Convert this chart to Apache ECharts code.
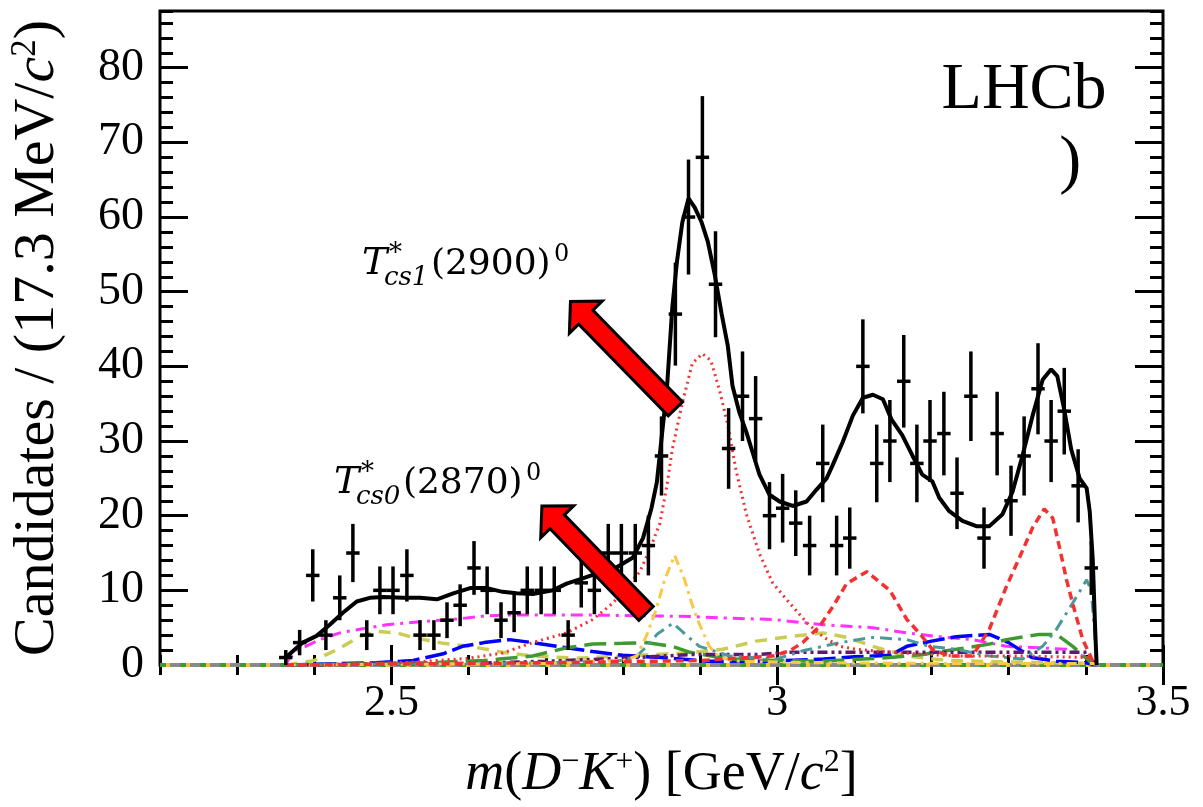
<!DOCTYPE html>
<html>
<head>
<meta charset="utf-8">
<script src="https://cdn.jsdelivr.net/npm/echarts@6/dist/echarts.min.js"></script>
<style>
html, body { margin: 0; padding: 0; background: #fff; }
#chart { width: 1203px; height: 807px; }
</style>
</head>
<body>
<div id="chart"></div>
<script>
// D-K+ invariant mass, 17.3 MeV bins
const binCenters = [2.363, 2.381, 2.398, 2.415, 2.433, 2.450, 2.468, 2.485, 2.502, 2.520,
    2.537, 2.555, 2.572, 2.589, 2.607, 2.624, 2.642, 2.659, 2.676, 2.694,
    2.711, 2.729, 2.746, 2.763, 2.781, 2.798, 2.816, 2.833, 2.850, 2.868,
    2.885, 2.903, 2.920, 2.937, 2.955, 2.972, 2.990, 3.007, 3.024, 3.042,
    3.059, 3.077, 3.094, 3.111, 3.129, 3.146, 3.164, 3.181, 3.198, 3.216,
    3.233, 3.251, 3.268, 3.285, 3.303, 3.320, 3.338, 3.355, 3.372, 3.390, 3.407]
const counts = [1, 3, 12, 4, 9, 15, 4, 10, 10, 12,
    4, 4, 6, 8, 13, 10, 6, 7, 10, 10,
    10, 4, 11, 10, 15, 15, 15, 16, 28, 47,
    60, 68, 51, 29, 36, 33, 20, 21, 19, 16,
    27, 16, 17, 40, 27, 30, 38, 27, 30, 31,
    23, 36, 17, 31, 22, 28, 37, 30, 34, 24, 13]
const countErrs = [1.0, 1.7, 3.5, 2.0, 3.0, 3.9, 2.0, 3.2, 3.2, 3.5,
    2.0, 2.0, 2.4, 2.8, 3.6, 3.2, 2.4, 2.6, 3.2, 3.2,
    3.2, 2.0, 3.3, 3.2, 3.9, 3.9, 3.9, 4.0, 5.3, 6.9,
    7.7, 8.2, 7.1, 5.4, 6.0, 5.7, 4.5, 4.6, 4.4, 4.0,
    5.2, 4.0, 4.1, 6.3, 5.2, 5.5, 6.2, 5.2, 5.5, 5.6,
    4.8, 6.0, 4.1, 5.6, 4.7, 5.3, 6.1, 5.5, 5.8, 4.9, 3.6]
const binWidth = 0.0174

// total fit
const fitX = [2.363, 2.385, 2.403, 2.420, 2.437, 2.455, 2.472, 2.489, 2.515, 2.537,
    2.559, 2.580, 2.602, 2.624, 2.644, 2.662, 2.683, 2.709, 2.727, 2.748,
    2.770, 2.792, 2.813, 2.826, 2.837, 2.844, 2.850, 2.857, 2.864, 2.870,
    2.877, 2.885, 2.893, 2.902, 2.910, 2.919, 2.928, 2.936, 2.942, 2.951,
    2.960, 2.968, 2.977, 2.990, 3.003, 3.020, 3.038, 3.051, 3.064, 3.072,
    3.085, 3.098, 3.111, 3.124, 3.137, 3.148, 3.162, 3.175, 3.188, 3.201,
    3.210, 3.223, 3.240, 3.258, 3.275, 3.292, 3.305, 3.318, 3.331, 3.344,
    3.355, 3.363, 3.372, 3.381, 3.392, 3.401, 3.405, 3.409, 3.412, 3.414]
const fitY = [1.0, 3.0, 3.9, 5.4, 7.0, 8.5, 9.0, 9.1, 9.0, 9.0,
    8.8, 9.6, 10.3, 10.3, 9.8, 9.6, 9.5, 10.0, 10.9, 11.6,
    12.4, 13.1, 14.4, 17.0, 21.0, 24.5, 30.3, 37.0, 47.9, 54.0,
    59.3, 62.5, 61.3, 59.3, 56.7, 52.3, 47.0, 42.7, 37.4, 33.8,
    31.2, 28.5, 25.5, 22.8, 21.9, 21.3, 21.9, 23.5, 25.0, 26.8,
    29.9, 33.4, 35.8, 36.2, 35.6, 32.9, 30.8, 28.1, 25.5, 24.6,
    22.4, 20.6, 19.3, 18.6, 18.6, 20.2, 23.2, 28.1, 33.4, 38.2,
    39.6, 38.7, 34.2, 28.9, 25.0, 23.7, 20.6, 14.0, 5.0, 0]

// fit components
const redDotX = [2.363, 2.45, 2.53, 2.60, 2.644, 2.683, 2.727, 2.761, 2.787, 2.805,
    2.822, 2.835, 2.848, 2.857, 2.864, 2.877, 2.890, 2.903, 2.914, 2.925,
    2.936, 2.947, 2.960, 2.977, 2.994, 3.016, 3.038, 3.059, 3.081, 3.103,
    3.146, 3.232, 3.318, 3.405, 3.414]
const redDotY = [0, 0.1, 0.4, 0.9, 1.6, 3.0, 4.3, 6.1, 8.3, 10.5,
    12.5, 15.5, 19.0, 24.0, 28.9, 35.1, 40.4, 41.7, 40.8, 36.9,
    32.1, 25.9, 20.2, 14.9, 11.0, 8.3, 5.7, 3.8, 2.5, 2.1,
    1.7, 1.2, 1.2, 1.0, 0]
const redDashX = [2.363, 2.70, 2.90, 2.994, 3.016, 3.033, 3.055, 3.072, 3.090, 3.116,
    3.146, 3.168, 3.184, 3.201, 3.223, 3.253, 3.275, 3.297, 3.314, 3.331,
    3.346, 3.357, 3.366, 3.375, 3.383, 3.396, 3.409, 3.414]
const redDashY = [0, 0.3, 0.6, 1.2, 1.9, 3.0, 5.2, 7.8, 10.9, 12.5,
    10.0, 6.1, 4.3, 2.1, 1.2, 1.2, 4.8, 10.5, 14.4, 18.4,
    20.9, 19.7, 15.7, 11.4, 8.2, 3.4, 0.5, 0]
const goldX = [2.363, 2.70, 2.80, 2.818, 2.830, 2.843, 2.854, 2.867, 2.880, 2.889,
    2.899, 2.912, 2.925, 2.95, 3.05, 3.25, 3.41, 3.414]
const goldY = [0, 0.2, 0.6, 1.2, 3.8, 7.4, 11.4, 14.7, 11.4, 8.3,
    5.5, 2.5, 1.0, 0.5, 0.3, 0.2, 0.2, 0]
const tealX = [2.363, 2.70, 2.80, 2.818, 2.831, 2.845, 2.865, 2.883, 2.899, 2.912,
    2.938, 2.999, 3.033, 3.081, 3.124, 3.168, 3.197, 3.232, 3.275, 3.318,
    3.344, 3.362, 3.383, 3.401, 3.407, 3.411, 3.414]
const tealY = [0, 0.3, 0.6, 1.2, 2.5, 4.2, 5.6, 3.9, 2.5, 2.1,
    1.2, 0.8, 1.9, 3.0, 3.7, 3.4, 2.5, 2.1, 1.2, 0.8,
    2.5, 4.8, 8.3, 11.4, 10.0, 5.0, 0]
const magentaX = [2.363, 2.368, 2.381, 2.407, 2.433, 2.459, 2.494, 2.537, 2.580, 2.624,
    2.653, 2.75, 2.887, 2.929, 2.994, 3.059, 3.124, 3.168, 3.210, 3.253,
    3.297, 3.340, 3.375, 3.396, 3.409, 3.414]
const magentaY = [0, 1.0, 2.1, 3.4, 4.3, 4.8, 5.4, 5.8, 6.1, 6.6,
    6.7, 6.7, 6.5, 6.3, 6.1, 5.4, 5.0, 4.3, 3.8, 3.4,
    2.5, 2.3, 2.1, 1.2, 0.4, 0]
const khakiX = [2.363, 2.40, 2.43, 2.459, 2.481, 2.507, 2.528, 2.567, 2.602, 2.644,
    2.683, 2.74, 2.80, 2.88, 2.929, 2.973, 3.016, 3.059, 3.090, 3.124,
    3.168, 3.22, 3.30, 3.41, 3.414]
const khakiY = [0, 0.6, 2.1, 3.8, 4.5, 4.3, 3.7, 2.9, 2.5, 1.7,
    1.2, 0.9, 1.2, 1.6, 2.1, 3.2, 3.8, 4.3, 3.7, 2.5,
    1.2, 0.6, 0.4, 0.2, 0]
const blueX = [2.363, 2.48, 2.528, 2.567, 2.592, 2.62, 2.653, 2.683, 2.727, 2.761,
    2.80, 2.85, 2.91, 2.99, 3.06, 3.10, 3.146, 3.168, 3.20, 3.232,
    3.275, 3.30, 3.33, 3.362, 3.40, 3.414]
const blueY = [0, 0.3, 0.6, 1.5, 2.5, 3.0, 3.4, 3.0, 2.3, 1.8,
    1.3, 1.0, 0.5, 0.5, 0.8, 1.1, 1.3, 2.5, 3.2, 3.8,
    4.1, 3.0, 1.0, 0.5, 0.3, 0]
const greenX = [2.363, 2.55, 2.62, 2.64, 2.683, 2.727, 2.761, 2.80, 2.830, 2.864,
    2.887, 2.938, 3.00, 3.059, 3.146, 3.188, 3.232, 3.275, 3.297, 3.340,
    3.362, 3.383, 3.405, 3.414]
const greenY = [0, 0.3, 0.6, 0.8, 1.2, 2.3, 2.8, 2.9, 3.0, 2.5,
    1.7, 0.8, 0.6, 0.5, 1.0, 1.4, 2.1, 2.8, 3.4, 4.1,
    4.1, 2.5, 0.5, 0]
const purpleX = [2.363, 2.60, 2.70, 2.80, 2.887, 2.973, 3.016, 3.103, 3.188, 3.30, 3.401, 3.409, 3.414]
const purpleY = [0, 0.2, 0.5, 0.9, 1.4, 1.4, 1.7, 1.7, 1.7, 1.7, 1.7, 0.6, 0]
const baseX = [2.2, 3.5]
const baseY = [0, 0]

const xMajorTicks = [2.5, 3, 3.5]
const yMajorTicks = [0, 10, 20, 30, 40, 50, 60, 70, 80]

const serif = 'Liberation Serif'
const mathFont = 'DejaVu Serif'
const zip = (xs, ys) => xs.map((x, i) => [x, ys[i]])

function compLine(xs, ys, color, dash, width, z) {
    return {
        type: 'line', data: zip(xs, ys), symbol: 'none', silent: true,
        lineStyle: { color: color, width: width, type: dash }, z: z
    }
}

function tickAxis(pos, isX, major, len, values, interval) {
    let ax = {
        type: 'value', position: pos,
        axisLine: { show: false },
        splitLine: { show: false },
        axisLabel: { show: false },
        axisTick: { show: true, inside: true, length: len, lineStyle: { color: '#000', width: 3 } }
    }
    if (isX) { ax.min = 2.2; ax.max = 3.5 } else { ax.min = 0; ax.max = 87.6 }
    if (major) ax.axisTick.customValues = values
    else ax.interval = interval
    return ax
}

function numLabel(values, size, margin) {
    return {
        show: true, customValues: values, margin: margin,
        formatter: v => '{n|' + v + '}',
        rich: { n: { fontFamily: serif, fontSize: size, lineHeight: size, color: '#000' } }
    }
}

let chart = echarts.init(document.getElementById('chart'))

let xMain = tickAxis('bottom', true, true, 20, xMajorTicks)
xMain.axisLabel = numLabel(xMajorTicks, 44, 16)
xMain.name = '{i|m}{r|(}{i|D}{s|−}{i|K}{s|+}{r|) [GeV/}{i|c}{s|2}{r|]}'
xMain.nameLocation = 'middle'
xMain.nameGap = 82
xMain.nameTextStyle = {
    color: '#000',
    rich: {
        r: { fontFamily: serif, fontSize: 54, lineHeight: 56, color: '#000' },
        i: { fontFamily: serif, fontSize: 54, lineHeight: 56, fontStyle: 'italic', color: '#000' },
        s: { fontFamily: serif, fontSize: 32, lineHeight: 24, verticalAlign: 'top', color: '#000' }
    }
}

let yMain = tickAxis('left', false, true, 28, yMajorTicks)
yMain.axisLabel = numLabel(yMajorTicks, 46, 16)
yMain.name = '{r|Candidates / (17.3 MeV/}{i|c}{s|2}{r|)}'
yMain.nameLocation = 'middle'
yMain.nameRotate = 90
yMain.nameGap = 92
yMain.nameTextStyle = {
    color: '#000',
    rich: {
        r: { fontFamily: serif, fontSize: 58, lineHeight: 60, color: '#000' },
        i: { fontFamily: serif, fontSize: 58, lineHeight: 60, fontStyle: 'italic', color: '#000' },
        s: { fontFamily: serif, fontSize: 35, lineHeight: 26, verticalAlign: 'top', color: '#000' }
    }
}

const option = {
    animation: false,
    backgroundColor: '#fff',
    grid: {
        left: 160, right: 40, top: 11, bottom: 131,
        show: true, borderColor: '#000', borderWidth: 3, backgroundColor: 'transparent'
    },
    xAxis: [
        xMain,
        tickAxis('bottom', true, false, 10, null, 0.1),
        tickAxis('top', true, true, 20, xMajorTicks),
        tickAxis('top', true, false, 10, null, 0.1)
    ],
    yAxis: [
        yMain,
        tickAxis('left', false, false, 13, null, 2),
        tickAxis('right', false, true, 28, yMajorTicks),
        tickAxis('right', false, false, 13, null, 2)
    ],
    series: [
        compLine(baseX, baseY, '#8a8a8a', 'solid', 4, 1),
        compLine(baseX, baseY, '#f2c230', [10, 10], 4, 1),
        compLine(baseX, baseY, '#3d9a30', [6, 14], 4, 1),
        compLine(magentaX, magentaY, '#ff33ff', [12, 6, 3, 6], 3, 2),
        compLine(khakiX, khakiY, '#cccc55', [12, 8], 3.5, 2),
        compLine(blueX, blueY, '#0000ff', [22, 6], 3.5, 2),
        compLine(greenX, greenY, '#3d9a30', [22, 8], 3.5, 2),
        compLine(purpleX, purpleY, '#5e1a6e', [10, 4, 3, 4, 3, 4], 3.5, 2),
        compLine(tealX, tealY, '#4a9a9a', [12, 6, 3, 6], 3, 2),
        compLine(goldX, goldY, '#f9c846', [10, 5, 3, 5], 3, 2),
        compLine(redDashX, redDashY, '#f43030', [8, 5], 3.5, 2),
        compLine(redDotX, redDotY, '#f43030', [2, 4], 3, 2),
        compLine(fitX, fitY, '#000', 'solid', 4, 4),
        {
            type: 'custom', name: 'data', z: 5, silent: true,
            data: binCenters.map((x, i) => [x, counts[i], countErrs[i]]),
            renderItem: function (params, api) {
                let x = api.value(0), y = api.value(1), e = api.value(2)
                let top = api.coord([x, y + e])
                let bot = api.coord([x, Math.max(0, y - e)])
                let left = api.coord([x - binWidth / 2, y])
                let right = api.coord([x + binWidth / 2, y])
                return {
                    type: 'group',
                    children: [
                        { type: 'line', shape: { x1: top[0], y1: top[1], x2: bot[0], y2: bot[1] },
                          style: { stroke: '#000', lineWidth: 3.5 } },
                        { type: 'line', shape: { x1: left[0], y1: left[1], x2: right[0], y2: right[1] },
                          style: { stroke: '#000', lineWidth: 3.5 } }
                    ]
                }
            }
        }
    ]
}
chart.setOption(option)

// annotations, placed in data coordinates
const arrows = [
    { tip: [2.732, 48.7], tail: [2.868, 34.3] },
    { tip: [2.695, 21.3], tail: [2.830, 6.9] }
]
const labels = [
    { at: [2.4617, 51.9], sub: 'cs1', num: '(2900)' },
    { at: [2.4254, 22.6], sub: 'cs0', num: '(2870)' }
]

const toPx = p => chart.convertToPixel({ gridIndex: 0 }, p)

function arrowShape(a) {
    let t = toPx(a.tip), c = toPx(a.tail)
    let dx = c[0] - t[0], dy = c[1] - t[1]
    let len = Math.sqrt(dx * dx + dy * dy)
    let ux = dx / len, uy = dy / len, nx = -uy, ny = ux
    let L = 22, W = 23, w = 10
    let bx = t[0] + ux * L, by = t[1] + uy * L
    return {
        type: 'polygon', z: 20, silent: true,
        shape: { points: [
            t,
            [bx + nx * W, by + ny * W],
            [bx + nx * w, by + ny * w],
            [c[0] + nx * w, c[1] + ny * w],
            [c[0] - nx * w, c[1] - ny * w],
            [bx - nx * w, by - ny * w],
            [bx - nx * W, by - ny * W]
        ] },
        style: { fill: '#ff0000', stroke: '#000', lineWidth: 3 }
    }
}

function txt(text, x, base, size, style, family) {
    return {
        type: 'text', z: 20, silent: true, x: x, y: base - 0.35 * size,
        style: {
            text: text, fontFamily: family || mathFont, fontSize: size, fontStyle: style,
            fill: '#000', align: 'left', verticalAlign: 'middle'
        }
    }
}

let graphics = []
arrows.forEach(a => graphics.push(arrowShape(a)))
labels.forEach(l => {
    let p = toPx(l.at)
    graphics.push(txt('T', p[0], p[1], 38, 'italic'))
    graphics.push(txt('*', p[0] + 27, p[1] - 14, 26, 'normal'))
    graphics.push(txt(l.sub, p[0] + 22, p[1] + 10, 26, 'italic'))
    graphics.push(txt(l.num, p[0] + 69, p[1], 36, 'normal'))
    graphics.push(txt('0', p[0] + 192, p[1] - 14, 24, 'normal'))
})
let lhcb = toPx([3.213, 73.8])
graphics.push(txt('LHCb', lhcb[0], lhcb[1], 66, 'normal', serif))
let paren = toPx([3.3655, 64.0])
graphics.push(txt(')', paren[0], paren[1], 66, 'normal', serif))

chart.setOption({ graphic: graphics })
</script>
</body>
</html>
